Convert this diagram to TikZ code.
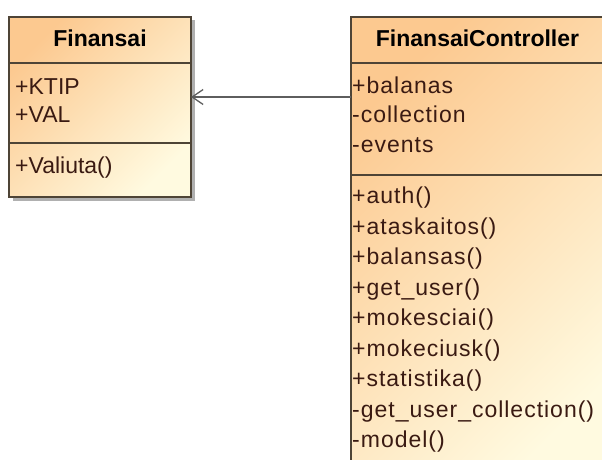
\documentclass[tikz,border=0pt]{standalone}
\usepackage{fontspec}
\setmainfont{Liberation Sans}
\newfontfamily\spacedsans[LetterSpace=4.3]{Liberation Sans}
\usetikzlibrary{arrows.meta,shadows}

\definecolor{umlpeach}{HTML}{FCC990}
\definecolor{umlcream}{HTML}{FFFAE0}
\definecolor{umledge}{HTML}{4E4436}
\definecolor{umltext}{HTML}{3A1A12}
\definecolor{umlshadow}{HTML}{9C9C9C}
\definecolor{umlline}{HTML}{5E5E5E}

\begin{document}
\begin{tikzpicture}[x=1pt,y=-1pt,
  classbox/.style={rectangle, draw=umledge, line width=1.5pt,
    top color=umlpeach, bottom color=umlcream, shading angle=45,
    anchor=north west, inner sep=0pt, outer sep=0pt,
    drop shadow={shadow xshift=3.5pt, shadow yshift=-3.5pt,
      fill=umlshadow, opacity=0.8}},
  compsep/.style={draw=umledge, line width=1.5pt},
  member/.style={anchor=base west, inner sep=0pt, text=umltext,
    font=\fontsize{23}{28}\selectfont},
  widemember/.style={member, font=\spacedsans\fontsize{23}{28}\selectfont},
  classname/.style={anchor=base, inner sep=0pt, text=black,
    font=\fontsize{23}{28}\selectfont\bfseries},
  assoc/.style={draw=umlline, line width=1.5pt,
    -{Straight Barb[length=11pt,width=15pt,line width=1.3pt]}}]

\useasboundingbox (0,0) rectangle (602,460);

% class boxes
\node[classbox, minimum width=182pt, minimum height=180pt] (fin) at (9,17) {};
\node[classbox, minimum width=258pt, minimum height=470pt] (ctrl) at (351,17) {};

% compartment levels
\coordinate (hdr) at (0,63);
\coordinate (finsep) at (0,143);
\coordinate (ctrlsep) at (0,175);
\coordinate (namebase) at (0,47);
\coordinate (assocy) at (0,97);

\draw[compsep] (fin.west |- hdr) -- (fin.east |- hdr);
\draw[compsep] (fin.west |- finsep) -- (fin.east |- finsep);
\draw[compsep] (ctrl.west |- hdr) -- (ctrl.east |- hdr);
\draw[compsep] (ctrl.west |- ctrlsep) -- (ctrl.east |- ctrlsep);

% class Finansai
\node[classname] (finname) at (fin.north |- namebase) {Finansai};
\node[member] (fa1) at (15,94) {+KTIP};
\node[member] (fa2) at (15,122.5) {+VAL};
\node[member] (fm1) at (15,173) {+Valiuta()};

% class FinansaiController
\node[classname] (ctrlname) at (477.5,47) {FinansaiController};
\node[widemember] (ca1) at (352,93) {+balanas};
\node[widemember] (ca2) at (352,122.5) {-collection};
\node[widemember] (ca3) at (352,152) {-events};

\node[widemember] (cm1) at (352,203.5) {+auth()};
\node[widemember] (cm2) at (352,234) {+ataskaitos()};
\node[widemember] (cm3) at (352,264.5) {+balansas()};
\node[widemember] (cm4) at (352,295) {+get\_user()};
\node[widemember] (cm5) at (352,325.5) {+mokesciai()};
\node[widemember] (cm6) at (352,356) {+mokeciusk()};
\node[widemember] (cm7) at (352,386.5) {+statistika()};
\node[widemember] (cm8) at (352,417) {-get\_user\_collection()};
\node[widemember] (cm9) at (352,447.5) {-model()};

% association
\draw[assoc] (ctrl.west |- assocy) -- (fin.east |- assocy);

\end{tikzpicture}
\end{document}
